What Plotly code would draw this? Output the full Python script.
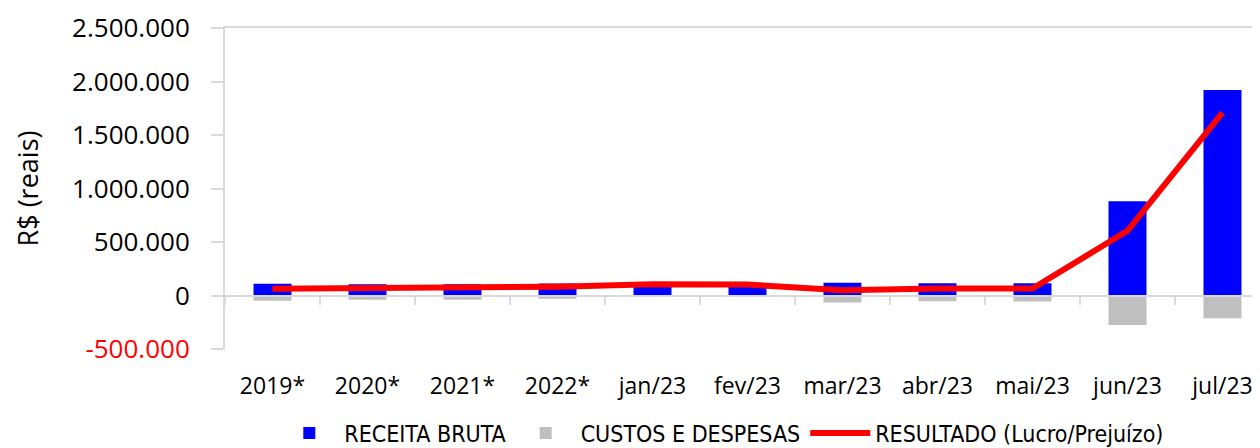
import plotly.graph_objects as go

categories = ["2019*", "2020*", "2021*", "2022*", "jan/23", "fev/23", "mar/23", "abr/23", "mai/23", "jun/23", "jul/23"]
receita_bruta = [110000, 105000, 105000, 112000, 110000, 105000, 120000, 115000, 115000, 880000, 1920000]
custos_despesas = [-50000, -40000, -40000, -30000, 0, 0, -65000, -53000, -55000, -275000, -212000]
resultado = [62000, 66000, 68000, 82000, 105000, 102000, 50000, 66000, 65000, 605000, 1710000]

y_tickvals = [-500000, 0, 500000, 1000000, 1500000, 2000000, 2500000]
y_ticktext = ["<span style='color:#FF0000'>-500.000</span>", "0", "500.000", "1.000.000", "1.500.000", "2.000.000", "2.500.000"]
y_range = [-500000, 2500000]

FONT = "Open Sans"
LEG_FONT = "DejaVu Sans Condensed"

fig = go.Figure()
fig.add_trace(go.Bar(x=categories, y=receita_bruta, name="RECEITA BRUTA",
                     marker=dict(color="#0000FF", line=dict(width=0)), width=0.4))
fig.add_trace(go.Bar(x=categories, y=custos_despesas, name="CUSTOS E DESPESAS",
                     marker=dict(color="#BFBFBF", line=dict(width=0)), width=0.4))
fig.add_trace(go.Scatter(x=categories, y=resultado, name="RESULTADO (Lucro/Prejuízo)",
                         mode="lines", line=dict(color="#FF0000", width=6)))
# invisible helper traces to activate overlay axes
fig.add_trace(go.Scatter(x=categories, y=resultado, xaxis="x2", mode="none",
                         showlegend=False, hoverinfo="skip"))
fig.add_trace(go.Scatter(x=categories, y=resultado, xaxis="x3", mode="none",
                         showlegend=False, hoverinfo="skip"))

zero_pos = (0 - y_range[0]) / (y_range[1] - y_range[0])
x_range = [-0.5, 10.395]

fig.update_layout(
    width=1252, height=440,
    margin=dict(l=217, r=0, t=20, b=99, autoexpand=False),
    paper_bgcolor="white", plot_bgcolor="white",
    barmode="relative",
    font=dict(family=FONT, size=20, color="#000000"),
    showlegend=True,
    legend=dict(orientation="h", x=0.48, xanchor="center", y=-0.262, yanchor="middle",
                font=dict(family=LEG_FONT, size=23, color="#000000"),
                traceorder="normal", itemwidth=60),
    xaxis=dict(type="category", range=x_range, showline=False, showgrid=False, automargin=False,
               zeroline=False, ticks="outside", ticklen=16, tickcolor="rgba(0,0,0,0)",
               tickfont=dict(family=FONT, size=23, color="#000000")),
    xaxis2=dict(type="category", matches="x", overlaying="x", anchor="free", automargin=False,
                position=zero_pos, showline=True, linecolor="#D9D9D9", linewidth=2,
                ticks="outside", tickson="boundaries", ticklen=8, tickwidth=2,
                tickcolor="#D9D9D9", showticklabels=False, showgrid=False),
    xaxis3=dict(type="category", matches="x", overlaying="x", side="top", anchor="y",
                automargin=False,
                showline=True, linecolor="#D9D9D9", linewidth=2, ticks="",
                showticklabels=False, showgrid=False),
    yaxis=dict(range=y_range, tickvals=y_tickvals, ticktext=y_ticktext, automargin=False,
               showgrid=False, zeroline=False, showline=True, linecolor="#D9D9D9",
               linewidth=2, ticks="outside", ticklen=12, tickwidth=2, tickcolor="#D9D9D9",
               ticklabelstandoff=16,
               tickfont=dict(family=FONT, size=26, color="#000000"),
               title=dict(text="R$ (reais)", font=dict(family=FONT, size=27, color="#000000"),
                          standoff=26)),
)

fig.write_html("out.html")
